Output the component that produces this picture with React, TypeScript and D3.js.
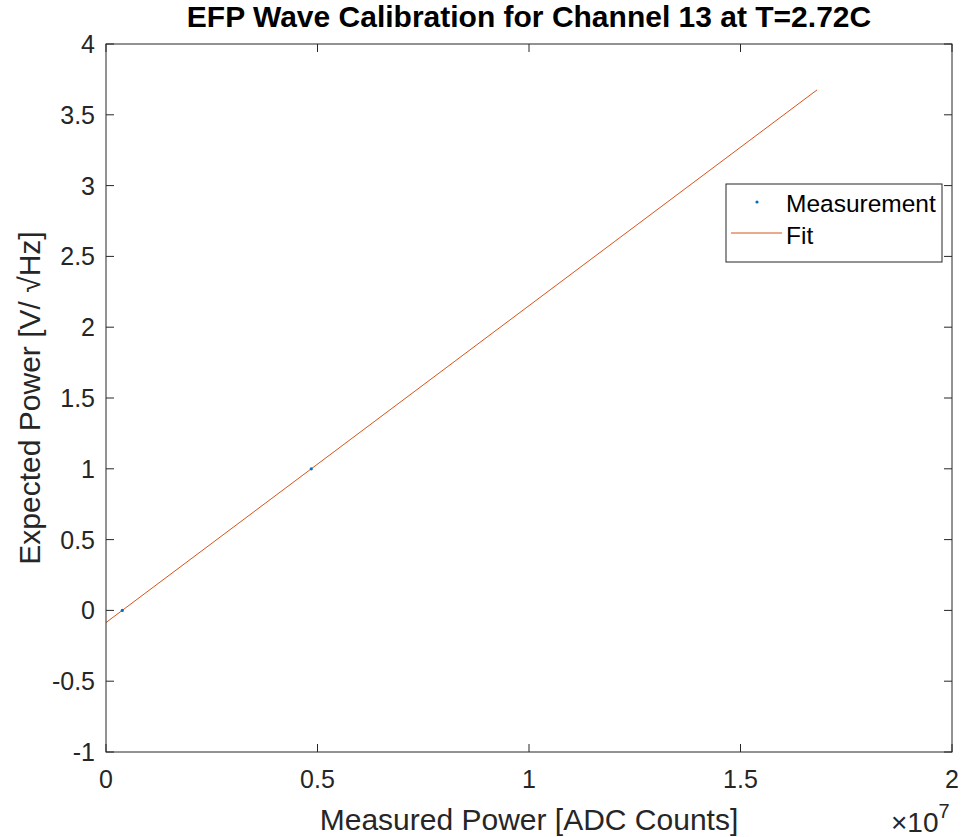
import React from "react";
import * as d3 from "d3";

const measX = [3.85e5, 4.853e6];
const measY = [0, 1];
const fitX = [0, 1.681e7];
const fitY = [-0.086, 3.676];
const xTicks = [0, 0.5e7, 1e7, 1.5e7, 2e7];
const xTickLabels = ["0", "0.5", "1", "1.5", "2"];
const yTicks = [-1, -0.5, 0, 0.5, 1, 1.5, 2, 2.5, 3, 3.5, 4];
const yTickLabels = ["-1", "-0.5", "0", "0.5", "1", "1.5", "2", "2.5", "3", "3.5", "4"];
const legendLabels = ["Measurement", "Fit"];

export default function App() {
  const W = 964, H = 837;
  const L = 106, R = 952, T = 44, B = 752;
  const x = d3.scaleLinear().domain([0, 2e7]).range([L, R]);
  const y = d3.scaleLinear().domain([-1, 4]).range([B, T]);
  const axisColor = "#262626";
  const font = "'Liberation Sans', Arial, Helvetica, sans-serif";
  const line = d3.line<number>().x((_, i) => x(fitX[i])).y((d) => y(d));
  const tl = 8;
  return (
    <svg width={W} height={H} style={{ position: "absolute", left: 0, top: 0, background: "#fff" }} fontFamily={font}>
      <rect x={0} y={0} width={W} height={H} fill="#fff" />
      <rect x={L} y={T} width={R - L} height={B - T} fill="#fff" />
      {/* fit line */}
      <path d={line(fitY) || ""} fill="none" stroke="#D95319" strokeWidth={1} />
      {/* measurement */}
      {measX.map((mx, i) => (
        <circle key={i} cx={x(mx)} cy={y(measY[i])} r={1.6} fill="#0072BD" />
      ))}
      {/* axes box */}
      <rect x={L} y={T} width={R - L} height={B - T} fill="none" stroke={axisColor} strokeWidth={1} />
      {xTicks.map((t, i) => (
        <g key={"xt" + i}>
          <line x1={x(t)} x2={x(t)} y1={B} y2={B - tl} stroke={axisColor} />
          <line x1={x(t)} x2={x(t)} y1={T} y2={T + tl} stroke={axisColor} />
          <text x={x(t)} y={788} fontSize={25} textAnchor="middle" fill={axisColor}>{xTickLabels[i]}</text>
        </g>
      ))}
      {yTicks.map((t, i) => (
        <g key={"yt" + i}>
          <line x1={L} x2={L + tl} y1={y(t)} y2={y(t)} stroke={axisColor} />
          <line x1={R} x2={R - tl} y1={y(t)} y2={y(t)} stroke={axisColor} />
          <text x={95} y={y(t) + 9} fontSize={25} textAnchor="end" fill={axisColor}>{yTickLabels[i]}</text>
        </g>
      ))}
      {/* exponent */}
      <text x={891} y={832} fontSize={28} fill={axisColor}>
        <tspan>×10</tspan>
        <tspan fontSize={20} dy={-14}>7</tspan>
      </text>
      {/* axis labels */}
      <text x={(L + R) / 2} y={830} fontSize={30} textAnchor="middle" fill={axisColor}>Measured Power [ADC Counts]</text>
      <text transform={`translate(40,${(T + B) / 2}) rotate(-90)`} fontSize={30} textAnchor="middle" fill={axisColor}>
        Expected Power [V/ √Hz]
      </text>
      {/* title */}
      <text x={(L + R) / 2} y={27} fontSize={30} fontWeight="bold" textAnchor="middle" fill="#000">EFP Wave Calibration for Channel 13 at T=2.72C</text>
      {/* legend */}
      <rect x={726} y={184} width={216} height={78} fill="#fff" stroke={axisColor} strokeWidth={1} />
      <circle cx={757} cy={202} r={1.6} fill="#0072BD" />
      <line x1={731} x2={782} y1={233} y2={233} stroke="#D95319" strokeWidth={1} />
      <text x={786} y={212} fontSize={24.5} fill="#000">{legendLabels[0]}</text>
      <text x={786} y={244} fontSize={24.5} fill="#000">{legendLabels[1]}</text>
    </svg>
  );
}
